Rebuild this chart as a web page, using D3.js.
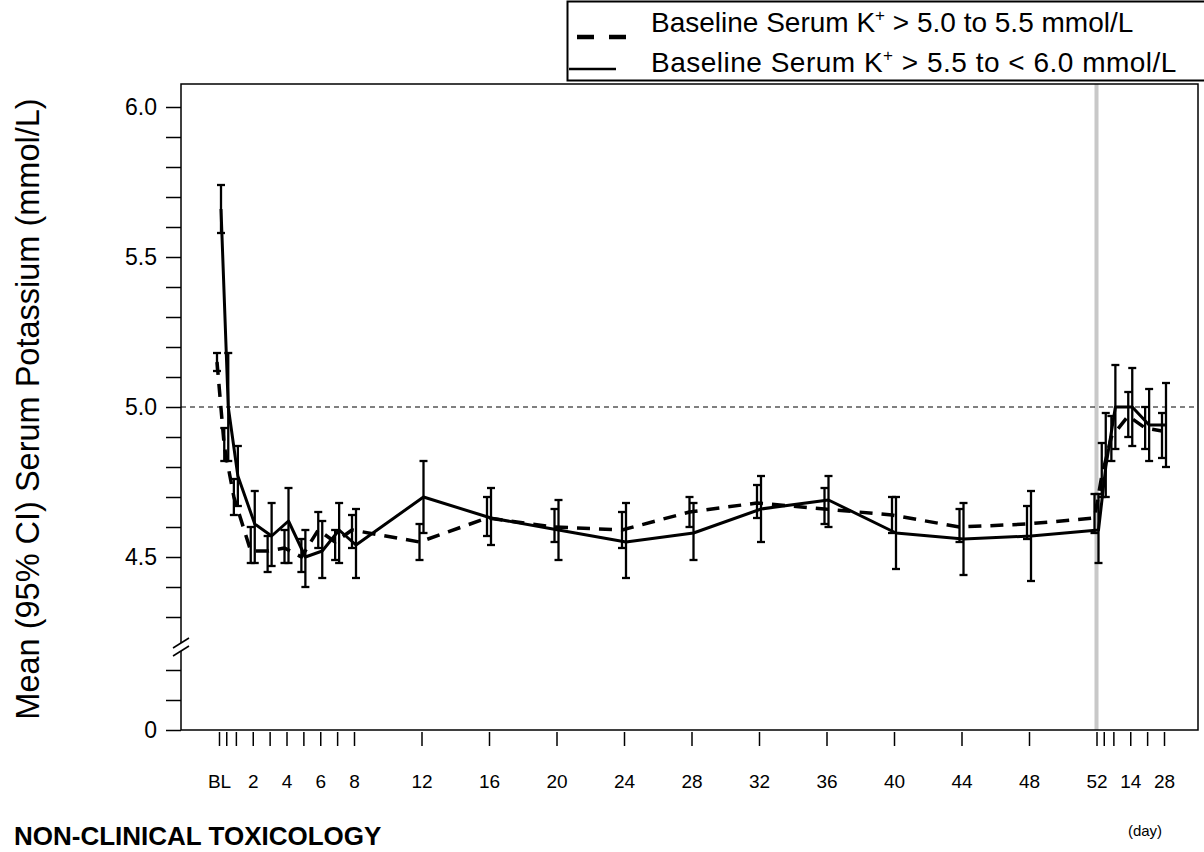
<!DOCTYPE html>
<html>
<head>
<meta charset="utf-8">
<script src="https://cdn.jsdelivr.net/npm/d3@7"></script>
<style>
  body { margin: 0; background: #fff; overflow: hidden; }
  svg { font-family: "Liberation Sans", Arial, sans-serif; }
</style>
</head>
<body>
<div id="chart"></div>
<script>
// visit positions in weeks (follow-up days after week 52 as fractions of a week)
var visitWeeks = [0, 0.43, 1, 2, 3, 4, 5, 6, 7, 8, 12, 16, 20, 24, 28, 32, 36, 40, 44, 48, 52, 52.43, 53, 54, 55, 56];
var visitLabels = ["BL", "", "", "2", "", "4", "", "6", "", "8", "12", "16", "20", "24", "28", "32", "36", "40", "44", "48", "52", "", "", "14", "", "28"];

// Baseline K+ > 5.0 to 5.5 (dashed)
var lowMean = [5.15, 4.87, 4.70, 4.52, 4.52, 4.53, 4.50, 4.59, 4.55, 4.59, 4.55, 4.63, 4.60, 4.59, 4.65, 4.68, 4.66, 4.64, 4.60, 4.61, 4.63, 4.77, 4.90, 4.97, 4.93, 4.92];
var lowLo   = [5.12, 4.82, 4.64, 4.48, 4.45, 4.48, 4.45, 4.53, 4.49, 4.53, 4.49, 4.57, 4.55, 4.53, 4.60, 4.63, 4.61, 4.58, 4.55, 4.56, 4.58, 4.70, 4.82, 4.90, 4.86, 4.83];
var lowHi   = [5.18, 4.93, 4.76, 4.60, 4.57, 4.59, 4.56, 4.65, 4.59, 4.64, 4.61, 4.70, 4.66, 4.65, 4.70, 4.74, 4.73, 4.70, 4.66, 4.67, 4.71, 4.88, 4.97, 5.05, 5.00, 4.98];

// Baseline K+ > 5.5 to < 6.0 (solid)
var highMean = [5.66, 5.00, 4.77, 4.61, 4.57, 4.62, 4.50, 4.52, 4.59, 4.54, 4.70, 4.63, 4.59, 4.55, 4.58, 4.66, 4.69, 4.58, 4.56, 4.57, 4.59, 4.80, 5.00, 5.00, 4.94, 4.94];
var highLo   = [5.58, 4.82, 4.67, 4.48, 4.47, 4.48, 4.40, 4.43, 4.48, 4.43, 4.58, 4.54, 4.49, 4.43, 4.49, 4.55, 4.60, 4.46, 4.44, 4.42, 4.48, 4.70, 4.86, 4.87, 4.82, 4.80];
var highHi   = [5.74, 5.18, 4.87, 4.72, 4.68, 4.73, 4.59, 4.62, 4.68, 4.66, 4.82, 4.73, 4.69, 4.68, 4.68, 4.77, 4.77, 4.70, 4.68, 4.72, 4.71, 4.98, 5.14, 5.13, 5.06, 5.08];

var yTicksUpper = [4.3, 4.4, 4.5, 4.6, 4.7, 4.8, 4.9, 5.0, 5.1, 5.2, 5.3, 5.4, 5.5, 5.6, 5.7, 5.8, 5.9, 6.0];
var yLabelsUpper = ["4.5", "5.0", "5.5", "6.0"];
var yTicksLower = [0, 1, 2];
var refLevel = 5.0;
var lastWeek = 52;

var width = 1204, height = 852;
var plotLeft = 181, plotRight = 1198, plotTop = 84, plotBottom = 730;
var font = '"Liberation Sans", Arial, sans-serif';

var svg = d3.select('#chart').append('svg')
  .attr('width', width)
  .attr('height', height);

var x = d3.scaleLinear().domain([0, 56]).range([219, 1164]);
var y = d3.scaleLinear().domain([4.3, 6.0]).range([617, 107]);
var yLow = d3.scaleLinear().domain([0, 2]).range([730, 670]);

// grey line at week 52
svg.append('line')
  .attr('x1', x(lastWeek)).attr('x2', x(lastWeek))
  .attr('y1', plotTop).attr('y2', plotBottom)
  .attr('stroke', '#c8c8c8').attr('stroke-width', 4);

// reference line
svg.append('line')
  .attr('x1', plotLeft).attr('x2', plotRight)
  .attr('y1', y(refLevel)).attr('y2', y(refLevel))
  .attr('stroke', '#000').attr('stroke-width', 1)
  .attr('stroke-dasharray', '5,4');

// plot frame
svg.append('path')
  .attr('d', 'M' + plotLeft + ',' + plotTop + 'H' + plotRight + 'V' + plotBottom + 'H' + plotLeft + 'Z')
  .attr('fill', 'none').attr('stroke', '#000').attr('stroke-width', 1.5);

// y axes
var yAxis = d3.axisLeft(y)
  .tickValues(yTicksUpper)
  .tickSize(15).tickPadding(9)
  .tickFormat(function(d) {
    var s = d3.format('.1f')(d);
    return yLabelsUpper.indexOf(s) >= 0 ? s : '';
  });
var gy = svg.append('g').attr('transform', 'translate(' + plotLeft + ',0)').call(yAxis);

var gyLow = svg.append('g').attr('transform', 'translate(' + plotLeft + ',0)')
  .call(d3.axisLeft(yLow).tickValues(yTicksLower).tickSize(15).tickPadding(9)
    .tickFormat(function(d) { return d === 0 ? '0' : ''; }));

[gy, gyLow].forEach(function(g) {
  g.attr('font-size', 23).attr('font-family', font);
  g.select('.domain').remove();
  g.selectAll('line').attr('stroke', '#000').attr('stroke-width', 1.5);
  g.selectAll('text').attr('fill', '#000');
});

// axis break
var brk = svg.append('g').attr('transform', 'translate(' + plotLeft + ',647)');
brk.append('rect').attr('x', -3).attr('y', -4).attr('width', 6).attr('height', 8).attr('fill', '#fff');
[-4, 4].forEach(function(dy) {
  brk.append('line')
    .attr('x1', -8).attr('y1', dy + 5).attr('x2', 8).attr('y2', dy - 5)
    .attr('stroke', '#000').attr('stroke-width', 1.5);
});

// x axis
var xAxis = d3.axisBottom(x)
  .tickValues(visitWeeks)
  .tickSize(14).tickPadding(29)
  .tickFormat(function(d, i) { return visitLabels[i]; });
var gx = svg.append('g').attr('transform', 'translate(0,' + (plotBottom + 2) + ')').call(xAxis);
gx.attr('font-size', 19).attr('font-family', font);
gx.select('.domain').remove();
gx.selectAll('line').attr('stroke', '#000').attr('stroke-width', 1.5);
gx.selectAll('text').attr('fill', '#000');

// series
var series = [
  { mean: highMean, lo: highLo, hi: highHi, off: 2, dash: null, width: 3 },
  { mean: lowMean, lo: lowLo, hi: lowHi, off: -2, dash: '13,9', width: 3.5 }
];

series.forEach(function(s) {
  var pts = visitWeeks.map(function(w, i) {
    return { x: x(w) + s.off, m: s.mean[i], lo: s.lo[i], hi: s.hi[i] };
  });

  var bars = svg.append('g').selectAll('g').data(pts).enter().append('g')
    .attr('stroke', '#000').attr('stroke-width', 2.3);
  bars.append('line')
    .attr('x1', function(d) { return d.x; }).attr('x2', function(d) { return d.x; })
    .attr('y1', function(d) { return y(d.lo); }).attr('y2', function(d) { return y(d.hi); });
  bars.append('line')
    .attr('x1', function(d) { return d.x - 4; }).attr('x2', function(d) { return d.x + 4; })
    .attr('y1', function(d) { return y(d.lo); }).attr('y2', function(d) { return y(d.lo); });
  bars.append('line')
    .attr('x1', function(d) { return d.x - 4; }).attr('x2', function(d) { return d.x + 4; })
    .attr('y1', function(d) { return y(d.hi); }).attr('y2', function(d) { return y(d.hi); });

  var line = d3.line()
    .x(function(d) { return d.x; })
    .y(function(d) { return y(d.m); });

  svg.append('path')
    .datum(pts)
    .attr('d', line)
    .attr('fill', 'none')
    .attr('stroke', '#000')
    .attr('stroke-width', s.width)
    .attr('stroke-linejoin', 'round')
    .attr('stroke-dasharray', s.dash);
});

// y axis title
svg.append('text')
  .attr('transform', 'translate(39,409) rotate(-90)')
  .attr('text-anchor', 'middle')
  .attr('font-size', 32.5)
  .text('Mean (95% CI) Serum Potassium (mmol/L)');

// legend
var legend = svg.append('g');
legend.append('rect')
  .attr('x', 567.5).attr('y', 1.5).attr('width', 700).attr('height', 79)
  .attr('fill', '#fff').attr('stroke', '#000').attr('stroke-width', 2);
legend.append('line')
  .attr('x1', 577).attr('x2', 628).attr('y1', 37).attr('y2', 37)
  .attr('stroke', '#000').attr('stroke-width', 4.5).attr('stroke-dasharray', '17,15');
legend.append('line')
  .attr('x1', 569).attr('x2', 616).attr('y1', 69).attr('y2', 69)
  .attr('stroke', '#000').attr('stroke-width', 2.5);

var legendText = [
  ['Baseline Serum K', '+', ' > 5.0 to 5.5 mmol/L', 0],
  ['Baseline Serum K', '+', ' > 5.5 to < 6.0 mmol/L', 0.5]
];
legendText.forEach(function(parts, i) {
  var t = legend.append('text')
    .attr('x', 651).attr('y', 32 + i * 40)
    .attr('font-size', 28)
    .attr('letter-spacing', parts[3]);
  t.append('tspan').text(parts[0]);
  t.append('tspan').attr('font-size', 17).attr('dy', -11).text(parts[1]);
  t.append('tspan').attr('dy', 11).text(parts[2]);
});

// footer texts
svg.append('text')
  .attr('x', 14).attr('y', 845)
  .attr('font-size', 26).attr('font-weight', 'bold')
  .text('NON-CLINICAL TOXICOLOGY');

svg.append('text')
  .attr('x', 1145).attr('y', 836)
  .attr('text-anchor', 'middle')
  .attr('font-size', 15)
  .text('(day)');
</script>
</body>
</html>
